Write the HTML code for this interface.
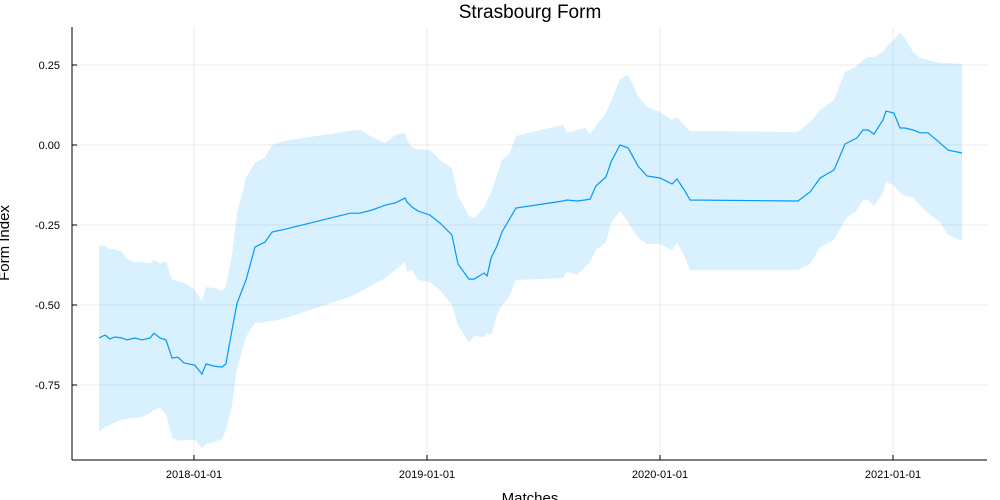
<!DOCTYPE html>
<html><head><meta charset="utf-8"><style>
body{margin:0;background:#fff;}
svg{display:block;font-family:"Liberation Sans",sans-serif;}
</style></head><body>
<svg id="chart" width="1000" height="500" viewBox="0 0 1000 500"></svg>
<script>
const dates=[2017.592,2017.618,2017.639,2017.661,2017.691,2017.712,2017.747,2017.777,2017.811,2017.828,2017.854,2017.880,2017.906,2017.931,2017.957,2018.004,2018.034,2018.052,2018.086,2018.120,2018.137,2018.163,2018.185,2018.223,2018.262,2018.305,2018.335,2018.391,2018.670,2018.712,2018.764,2018.820,2018.863,2018.906,2018.914,2018.936,2018.961,2019.013,2019.056,2019.107,2019.133,2019.180,2019.202,2019.245,2019.258,2019.275,2019.300,2019.322,2019.352,2019.382,2019.584,2019.601,2019.644,2019.678,2019.700,2019.725,2019.768,2019.790,2019.828,2019.863,2019.906,2019.944,2020.000,2020.052,2020.073,2020.107,2020.129,2020.592,2020.644,2020.687,2020.747,2020.794,2020.845,2020.871,2020.893,2020.918,2020.957,2020.970,2021.004,2021.030,2021.052,2021.086,2021.116,2021.150,2021.202,2021.236,2021.296];
const formMean=[-0.603,-0.594,-0.606,-0.6,-0.603,-0.609,-0.603,-0.609,-0.603,-0.588,-0.603,-0.609,-0.666,-0.663,-0.681,-0.688,-0.716,-0.684,-0.691,-0.694,-0.684,-0.578,-0.494,-0.422,-0.319,-0.303,-0.272,-0.263,-0.213,-0.213,-0.203,-0.188,-0.181,-0.166,-0.178,-0.194,-0.206,-0.219,-0.244,-0.281,-0.372,-0.419,-0.419,-0.4,-0.409,-0.353,-0.316,-0.272,-0.234,-0.197,-0.175,-0.172,-0.175,-0.172,-0.169,-0.128,-0.1,-0.053,0,-0.009,-0.066,-0.097,-0.103,-0.122,-0.106,-0.144,-0.172,-0.175,-0.147,-0.103,-0.078,0.003,0.022,0.047,0.047,0.034,0.078,0.106,0.1,0.053,0.053,0.047,0.038,0.038,0.006,-0.016,-0.025];
const formUpper=[-0.313,-0.316,-0.325,-0.325,-0.334,-0.356,-0.366,-0.366,-0.369,-0.359,-0.369,-0.363,-0.419,-0.425,-0.431,-0.453,-0.488,-0.444,-0.447,-0.456,-0.441,-0.344,-0.213,-0.103,-0.056,-0.038,0,0.013,0.044,0.047,0.025,0.006,0.031,0.038,0.016,-0.009,-0.013,-0.016,-0.047,-0.072,-0.159,-0.222,-0.228,-0.197,-0.172,-0.15,-0.094,-0.047,-0.031,0.028,0.063,0.038,0.047,0.053,0.034,0.059,0.1,0.138,0.206,0.219,0.153,0.119,0.103,0.078,0.088,0.059,0.044,0.041,0.072,0.109,0.141,0.228,0.247,0.266,0.275,0.275,0.291,0.306,0.328,0.35,0.334,0.291,0.272,0.266,0.256,0.256,0.253];
const formLower=[-0.897,-0.881,-0.875,-0.866,-0.859,-0.856,-0.853,-0.85,-0.838,-0.828,-0.822,-0.841,-0.913,-0.925,-0.922,-0.922,-0.947,-0.934,-0.928,-0.919,-0.891,-0.813,-0.697,-0.6,-0.556,-0.553,-0.55,-0.541,-0.475,-0.459,-0.438,-0.416,-0.391,-0.366,-0.397,-0.391,-0.422,-0.428,-0.453,-0.5,-0.563,-0.616,-0.597,-0.6,-0.588,-0.594,-0.531,-0.5,-0.475,-0.422,-0.416,-0.397,-0.406,-0.381,-0.366,-0.328,-0.303,-0.244,-0.206,-0.241,-0.291,-0.309,-0.309,-0.328,-0.306,-0.35,-0.391,-0.391,-0.372,-0.319,-0.297,-0.234,-0.203,-0.172,-0.172,-0.191,-0.15,-0.116,-0.125,-0.15,-0.159,-0.163,-0.188,-0.213,-0.241,-0.281,-0.3];
const yTicks=[0.25,0,-0.25,-0.5,-0.75];
const yTickLabels=["0.25","0.00","-0.25","-0.50","-0.75"];
const xTicks=[2018,2019,2020,2021];
const xTickLabels=["2018-01-01","2019-01-01","2020-01-01","2021-01-01"];

const L=72,R=987,T=27,B=460;
const X=t=>194+(t-2018)*233;
const Y=v=>145-v*320;
const NS="http://www.w3.org/2000/svg";
const svg=document.getElementById('chart');
function mk(tag,attrs,parent){const e=document.createElementNS(NS,tag);for(const k in attrs)e.setAttribute(k,attrs[k]);(parent||svg).appendChild(e);return e;}

const grid=mk('g',{});


yTicks.forEach(v=>{mk('line',{x1:L,x2:R,y1:Y(v),y2:Y(v),stroke:'#000','stroke-opacity':0.08,'stroke-width':1},grid);});
xTicks.forEach(t=>{mk('line',{x1:X(t),x2:X(t),y1:T,y2:B,stroke:'#000','stroke-opacity':0.08,'stroke-width':1},grid);});

let d='M'+dates.map((t,i)=>X(t).toFixed(1)+','+Y(formUpper[i]).toFixed(1)).join('L');
for(let i=dates.length-1;i>=0;i--)d+='L'+X(dates[i]).toFixed(1)+','+Y(formLower[i]).toFixed(1);
const band=mk('path',{d:d+'Z',fill:'#009afa','fill-opacity':0.15,stroke:'none'});



const line=mk('polyline',{points:dates.map((t,i)=>X(t).toFixed(1)+','+Y(formMean[i]).toFixed(1)).join(' '),fill:'none',stroke:'#009afa','stroke-width':1.2});



const axes=mk('g',{});


mk('line',{x1:L,x2:L,y1:T,y2:B,stroke:'#000','stroke-width':1},axes);
mk('line',{x1:L,x2:R,y1:B,y2:B,stroke:'#000','stroke-width':1},axes);
yTicks.forEach((v,i)=>{
  mk('line',{x1:L,x2:L+5,y1:Y(v),y2:Y(v),stroke:'#000'},axes);
  const t=mk('text',{x:L-12,y:Y(v)+4,'text-anchor':'end','font-size':11,fill:'#000'},axes);
  
  
  t.textContent=yTickLabels[i];
});
xTicks.forEach((v,i)=>{
  mk('line',{x1:X(v),x2:X(v),y1:B,y2:B-5,stroke:'#000'},axes);
  const t=mk('text',{x:X(v),y:B+18,'text-anchor':'middle','font-size':11,fill:'#000'},axes);
  
  
  t.textContent=xTickLabels[i];
});
const title=mk('text',{x:530,y:18,'text-anchor':'middle','font-size':19,fill:'#000'});


title.textContent='Strasbourg Form';
const xl=mk('text',{x:530,y:503,'text-anchor':'middle','font-size':15,fill:'#000'});


xl.textContent='Matches';
const yl=mk('text',{x:0,y:0,'text-anchor':'middle','font-size':15,fill:'#000',transform:'translate(9,243) rotate(-90)'});


yl.textContent='Form Index';
</script>
</body></html>
